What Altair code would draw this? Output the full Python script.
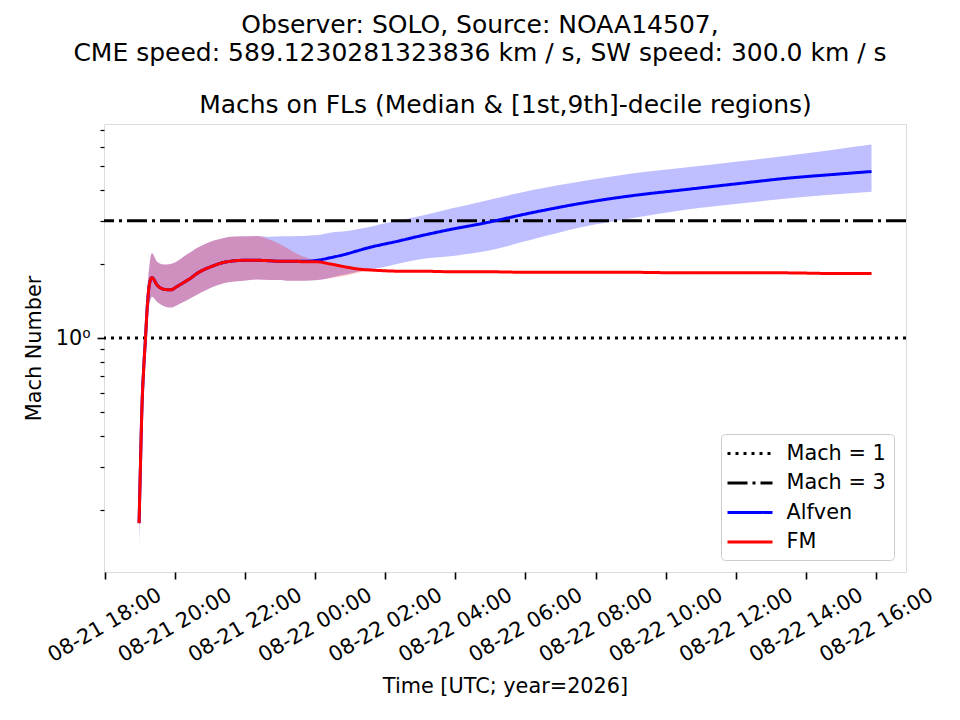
import altair as alt
import pandas as pd

# ---------------- data ----------------
times = [
    "2026-08-21T18:59:00Z", "2026-08-21T19:01:00Z", "2026-08-21T19:04:00Z", "2026-08-21T19:07:00Z",
    "2026-08-21T19:10:00Z", "2026-08-21T19:13:00Z", "2026-08-21T19:17:00Z", "2026-08-21T19:21:00Z",
    "2026-08-21T19:30:00Z", "2026-08-21T19:41:00Z", "2026-08-21T19:53:00Z", "2026-08-21T20:04:00Z",
    "2026-08-21T20:15:00Z", "2026-08-21T20:27:00Z", "2026-08-21T20:38:00Z", "2026-08-21T20:55:00Z",
    "2026-08-21T21:07:00Z", "2026-08-21T21:24:00Z", "2026-08-21T21:35:00Z", "2026-08-21T21:58:00Z",
    "2026-08-21T22:21:00Z", "2026-08-21T22:44:00Z", "2026-08-21T23:01:00Z", "2026-08-21T23:12:00Z",
    "2026-08-21T23:29:00Z", "2026-08-21T23:41:00Z", "2026-08-22T00:04:00Z", "2026-08-22T00:26:00Z",
    "2026-08-22T00:55:00Z", "2026-08-22T01:12:00Z", "2026-08-22T01:35:00Z", "2026-08-22T01:52:00Z",
    "2026-08-22T02:20:00Z", "2026-08-22T03:00:00Z", "2026-08-22T03:51:00Z", "2026-08-22T04:46:00Z",
    "2026-08-22T06:08:00Z", "2026-08-22T07:39:00Z", "2026-08-22T08:59:00Z", "2026-08-22T10:33:00Z",
    "2026-08-22T12:07:00Z", "2026-08-22T13:27:00Z", "2026-08-22T14:41:00Z", "2026-08-22T15:52:00Z",
]
alfven_median = [0.177, 0.28, 0.53, 0.76, 1.00, 1.34, 1.67, 1.76, 1.64, 1.58, 1.57, 1.62,
                 1.68, 1.75, 1.83, 1.92, 1.97, 2.03, 2.05, 2.07, 2.07, 2.06, 2.05, 2.05,
                 2.05, 2.05, 2.07, 2.12, 2.20, 2.26, 2.34, 2.39, 2.47, 2.60, 2.76, 2.92,
                 3.22, 3.54, 3.78, 4.01, 4.25, 4.46, 4.61, 4.75]
alfven_d1 = [0.140, 0.25, 0.48, 0.70, 0.93, 1.20, 1.38, 1.47, 1.40, 1.35, 1.33, 1.36,
             1.40, 1.45, 1.50, 1.57, 1.62, 1.67, 1.69, 1.71, 1.73, 1.72, 1.72, 1.71,
             1.71, 1.71, 1.72, 1.76, 1.82, 1.86, 1.90, 1.93, 2.00, 2.09, 2.15, 2.24,
             2.50, 2.83, 3.06, 3.32, 3.52, 3.69, 3.82, 3.93]
alfven_d9 = [0.190, 0.31, 0.58, 0.84, 1.10, 1.55, 2.00, 2.21, 2.04, 1.99, 2.00, 2.05,
             2.14, 2.23, 2.32, 2.43, 2.49, 2.55, 2.58, 2.59, 2.60, 2.58, 2.59, 2.59,
             2.60, 2.60, 2.62, 2.68, 2.72, 2.77, 2.83, 2.90, 2.99, 3.13, 3.35, 3.59,
             3.98, 4.35, 4.65, 4.93, 5.23, 5.51, 5.80, 6.11]
fm_median = [0.177, 0.28, 0.53, 0.76, 1.00, 1.34, 1.67, 1.76, 1.64, 1.58, 1.57, 1.62,
             1.68, 1.75, 1.83, 1.92, 1.97, 2.03, 2.05, 2.07, 2.07, 2.06, 2.05, 2.05,
             2.05, 2.04, 2.04, 2.00, 1.94, 1.91, 1.89, 1.88, 1.87, 1.87, 1.86, 1.86,
             1.85, 1.85, 1.85, 1.84, 1.84, 1.84, 1.83, 1.83]
fm_d1 = [0.150, 0.25, 0.48, 0.70, 0.93, 1.20, 1.38, 1.47, 1.40, 1.35, 1.33, 1.36,
         1.40, 1.45, 1.50, 1.57, 1.62, 1.67, 1.69, 1.71, 1.73, 1.72, 1.72, 1.71,
         1.71, 1.71, 1.72, 1.75, 1.80, 1.84, 1.87, 1.87, 1.86, 1.86, 1.85, 1.85,
         1.84, 1.84, 1.84, 1.83, 1.83, 1.83, 1.82, 1.82]
fm_d9 = [0.185, 0.31, 0.58, 0.84, 1.10, 1.55, 2.00, 2.21, 2.04, 1.99, 2.00, 2.05,
         2.14, 2.23, 2.32, 2.43, 2.49, 2.55, 2.58, 2.59, 2.60, 2.50, 2.40, 2.32,
         2.20, 2.14, 2.06, 2.02, 1.96, 1.93, 1.90, 1.89, 1.88, 1.88, 1.87, 1.87,
         1.86, 1.86, 1.86, 1.85, 1.85, 1.85, 1.84, 1.84]

mach_names = ["Mach = 1", "Mach = 3"]
mach_levels = [1, 3]
series_names = ["Mach = 1", "Mach = 3", "Alfven", "FM"]
series_colors = ["black", "black", "blue", "red"]
series_dashes = [[3, 5], [20, 5, 3, 5], [1, 0], [1, 0]]
y_tick_values = [0.2, 0.3, 0.4, 0.5, 0.6, 0.7, 0.8, 0.9, 1, 2, 3, 4, 5, 6, 7]
x_tick_times = [(21, 18), (21, 20), (21, 22), (22, 0), (22, 2), (22, 4), (22, 6),
                (22, 8), (22, 10), (22, 12), (22, 14), (22, 16)]

title_lines = ["Observer: SOLO, Source: NOAA14507,",
               "CME speed: 589.1230281323836 km / s, SW speed: 300.0 km / s"]
axes_title = "Machs on FLs (Median & [1st,9th]-decile regions)"
x_title = "Time [UTC; year=2026]"
y_title = "Mach Number"

# ---------------- tables ----------------
bands = pd.DataFrame({"time": times, "a_lo": alfven_d1, "a_hi": alfven_d9,
                      "f_lo": fm_d1, "f_hi": fm_d9})
alf = pd.DataFrame({"time": times, "value": alfven_median, "series": "Alfven"})
fm = pd.DataFrame({"time": times, "value": fm_median, "series": "FM"})
mach = pd.DataFrame({"series": mach_names, "value": mach_levels})

FS = 20.8
FONT = "DejaVu Sans"

xscale = alt.Scale(type="utc", domain=[
    alt.DateTime(year=2026, month=8, date=21, hours=17, minutes=59, utc=True),
    alt.DateTime(year=2026, month=8, date=22, hours=16, minutes=51, utc=True)])
yscale = alt.Scale(type="log", domain=[0.112, 7.41], nice=False)

x_axis = alt.Axis(
    values=[alt.DateTime(year=2026, month=8, date=d, hours=h, utc=True) for d, h in x_tick_times],
    labelExpr="utcFormat(datum.value, '%m-%d %H:%M')",
    labelAngle=-30, labelAlign="center", labelBaseline="middle",
    labelPadding=46, labelOverlap=False, labelBound=False, labelFlush=False,
    labelFontSize=FS, labelColor="black", labelFont=FONT,
    tickSize=7, tickWidth=1.6, tickColor="black", domain=False, grid=False,
    title=x_title, titleFontSize=FS, titleFontWeight="normal", titleColor="black",
    titleFont=FONT, titleY=120, titleBaseline="alphabetic")
top_axis = alt.Axis(
    orient="top", labels=False, ticks=False, domain=False, grid=False,
    title=axes_title, titleFontSize=25, titleFontWeight="normal", titleColor="black",
    titleFont=FONT, titleY=-12, titleBaseline="alphabetic")
y_axis = alt.Axis(
    values=y_tick_values,
    labelExpr="datum.value == 1 ? '10⁰' : ''",
    labelFontSize=FS, labelColor="black", labelFont=FONT, labelPadding=7,
    labelBaseline="middle",
    tickSize={"condition": {"test": "datum.value == 1", "value": 7}, "value": 4},
    tickWidth={"condition": {"test": "datum.value == 1", "value": 1.6}, "value": 1.2},
    tickColor="black", domain=False, grid=False,
    title=y_title, titleFontSize=FS, titleFontWeight="normal", titleColor="black",
    titleFont=FONT, titleX=-64, titleBaseline="alphabetic")

legend = alt.Legend(
    title=None, orient="none", legendX=617, legendY=310,
    symbolType="M-2.25,0L2.25,0", symbolSize=400, symbolStrokeWidth=3,
    symbolOffset=9.5, labelOffset=25, labelFontSize=FS, labelFont=FONT,
    labelColor="black", rowPadding=7.5, padding=8,
    strokeColor="#cccccc", fillColor="white", cornerRadius=4)
cscale = alt.Scale(domain=series_names, range=series_colors)
dscale = alt.Scale(domain=series_names, range=series_dashes)

Y = alt.Y("value:Q", scale=yscale, axis=y_axis)

band_a = alt.Chart(bands).mark_area(color="blue", opacity=0.25, interpolate="monotone").encode(
    x=alt.X("time:T", scale=xscale, axis=None),
    y=alt.Y("a_lo:Q", scale=yscale, axis=y_axis),
    y2="a_hi:Q")
band_f = alt.Chart(bands).mark_area(color="red", opacity=0.25, interpolate="monotone").encode(
    x=alt.X("time:T", scale=xscale, axis=top_axis),
    y=alt.Y("f_lo:Q", scale=yscale, axis=y_axis),
    y2="f_hi:Q")
rules = alt.Chart(mach).mark_rule(strokeWidth=3).encode(
    y=Y,
    color=alt.Color("series:N", scale=cscale, legend=legend),
    strokeDash=alt.StrokeDash("series:N", scale=dscale, legend=legend))
line_a = alt.Chart(alf).mark_line(strokeWidth=3, interpolate="monotone").encode(
    x=alt.X("time:T", scale=xscale, axis=x_axis),
    y=Y,
    color=alt.Color("series:N", scale=cscale, legend=legend),
    strokeDash=alt.StrokeDash("series:N", scale=dscale, legend=legend))
line_f = alt.Chart(fm).mark_line(strokeWidth=3, interpolate="monotone").encode(
    x=alt.X("time:T", scale=xscale, axis=None),
    y=Y,
    color=alt.Color("series:N", scale=cscale, legend=legend),
    strokeDash=alt.StrokeDash("series:N", scale=dscale, legend=legend))

chart = alt.layer(band_a, band_f, rules, line_a, line_f).resolve_axis(
    x="independent"
).properties(
    width=802, height=448,
    autosize=alt.AutoSizeParams(type="none"),
    padding={"left": 96, "top": 116, "right": 46, "bottom": 140},
    title=alt.TitleParams(text=title_lines, fontSize=25, fontWeight="normal",
                          font=FONT, color="black", anchor="middle", dx=-25, dy=-22,
                          lineHeight=28),
    background="white",
).configure_view(stroke="black", strokeWidth=1.6).configure(font=FONT)

chart.save("out.html", embed_options={"renderer": "svg", "actions": False})
